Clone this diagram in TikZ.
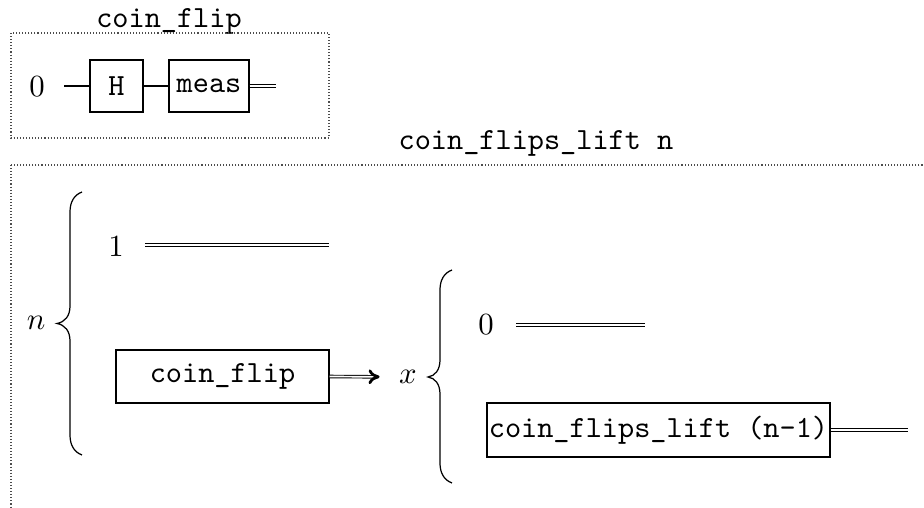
\documentclass[tikz,border=0pt]{standalone}
\usetikzlibrary{arrows.meta}
\begin{document}
\begin{tikzpicture}[x=0.325pt, y=-0.325pt,
    wire/.style={line width=0.4pt},
    cwire/.style={double, line width=0.3pt, double distance=0.55pt},
    gate/.style={draw, line width=0.45pt, inner sep=0pt, font=\ttfamily},
    frame/.style={draw=black!70, line width=0.35pt, dash pattern=on 0.35pt off 0.65pt},
    title/.style={font=\ttfamily, inner sep=0pt},
    lbl/.style={inner sep=0pt},
    bracestroke/.style={line width=0.4pt}]
  \clip (0,0) rectangle (924,508);
  \fill[white] (0,0) rectangle (924,508);

  % single coin flip: |0> -- H -- measure
  \node[title] (t1) at (169,21) {coin\_flip};
  \draw[frame] (11,33) rectangle (329,138);
  \node[lbl] (z1) at (37,87) {$0$};
  \node[gate, minimum width=17.2pt, minimum height=16.9pt] (h) at (116.5,86) {H};
  \node[gate, minimum width=26pt, minimum height=16.9pt] (meas) at (209,86) {meas};
  \coordinate (o1) at (276,86);
  \draw[wire, shorten <=19*0.325pt] (z1.east |- h.west) -- (h.west);
  \draw[wire] (h) -- (meas);
  \draw[cwire] (meas.east) -- (o1);

  % recursive lift over n coins
  \node[title] (t2) at (536,143) {coin\_flips\_lift n};
  \draw[frame] (11,165) rectangle (1061,560);

  % brace over the n branches
  \node[lbl] (n) at (36,323) {$n$};
  \coordinate (bn) at (57,323.5);
  \draw[bracestroke] (82,192) .. controls (74,195) and (70,202) .. (70,212)
    -- (70,306) .. controls (70,316) and (65,322) .. (bn)
    .. controls (65,325) and (70,331) .. (70,341)
    -- (70,435) .. controls (70,445) and (74,452) .. (82,455);

  \node[lbl] (one) at (116,247) {$1$};
  \coordinate (o2) at (329,245);
  \draw[cwire, shorten <=21*0.325pt] (one.east |- o2) -- (o2);

  \node[gate, minimum width=69.2pt, minimum height=17.2pt] (cf) at (222.5,376.5) {coin\_flip};
  \node[lbl] (x) at (408,377) {$x$};
  \draw[cwire, -{To[length=3.6pt, width=4.8pt, line width=0.9pt]}, shorten >=19*0.325pt] (cf.east) -- (x.west);

  % brace over the outcome x
  \coordinate (bx) at (428,377);
  \draw[bracestroke] (452,270) .. controls (444,273) and (440,280) .. (440,290)
    -- (440,360) .. controls (440,370) and (435,376) .. (bx)
    .. controls (435,378) and (440,384) .. (440,394)
    -- (440,463) .. controls (440,473) and (444,480) .. (452,483);

  \node[lbl] (z2) at (486,325) {$0$};
  \coordinate (o3) at (645,325);
  \draw[cwire, shorten <=22*0.325pt] (z2.east |- o3) -- (o3);

  \node[gate, minimum width=111.5pt, minimum height=17.5pt] (cfl) at (658.5,430) {coin\_flips\_lift (n-1)};
  \coordinate (o4) at (908,430);
  \draw[cwire] (cfl.east) -- (o4);
\end{tikzpicture}
\end{document}
